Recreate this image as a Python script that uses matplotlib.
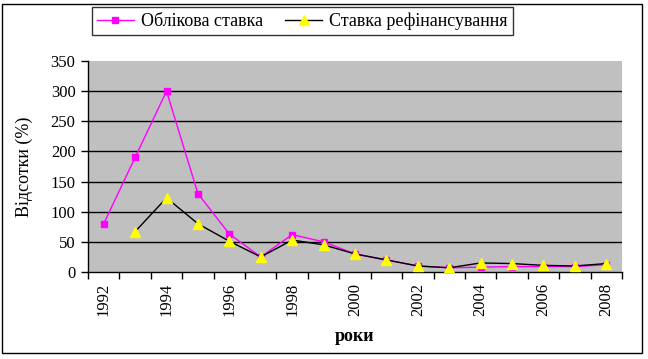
import matplotlib
matplotlib.use("Agg")
import matplotlib.pyplot as plt
from matplotlib.patches import Rectangle
from matplotlib.ticker import FixedLocator

years = list(range(1992, 2009))
discount_rate = [80, 190, 300, 130, 63, 25, 62, 50, 30, 20, 10, 7, 8, 9, 9, 9, 12]
refin_rate = [None, 67, 123, 80, 51, 25, 53, 45, 30, 20, 10, 7, 15, 14, 11, 10, 14]
series_names = ["Облікова ставка", "Ставка рефінансування"]
ylabel = "Відсотки (%)"
xlabel = "роки"
yticks = [0, 50, 100, 150, 200, 250, 300, 350]

plt.rcParams['font.family'] = ['Liberation Serif', 'DejaVu Serif']

W, H = 648, 359
fig = plt.figure(figsize=(W / 100, H / 100), dpi=100)
fig.patch.set_facecolor('white')

# outer border
fig.patches.append(Rectangle((2 / W, 1 - 353 / H), 640 / W, 349 / H,
                             transform=fig.transFigure, fill=False,
                             edgecolor='black', linewidth=1.0))

L, R, T, B = 88, 622, 61, 272
ax = fig.add_axes([L / W, 1 - B / H, (R - L) / W, (B - T) / H])
ax.set_facecolor('#C0C0C0')

x = list(range(len(years)))
rx = [i for i, v in zip(x, refin_rate) if v is not None]
rv = [v for v in refin_rate if v is not None]

l1, = ax.plot(x, discount_rate, color='#FF00FF', linewidth=1.0, marker='s',
              markersize=5, markerfacecolor='#FF00FF', markeredgecolor='#FF00FF',
              zorder=3)
l2, = ax.plot(rx, rv, color='black', linewidth=1.0, marker='^',
              markersize=7, markerfacecolor='#FFFF00', markeredgecolor='#FFFF00',
              zorder=4)

ax.set_xlim(-0.5, len(years) - 0.5)
ax.set_ylim(0, 350)
ax.set_yticks(yticks)
ax.set_yticklabels([str(v) for v in yticks], fontsize=12)
for v in yticks[1:-1]:
    ax.axhline(v, color='black', linewidth=1.0, zorder=1)

ax.xaxis.set_major_locator(FixedLocator(x[::2]))
ax.set_xticklabels([str(y) for y in years[::2]], rotation=90, fontsize=12)
ax.xaxis.set_minor_locator(FixedLocator([i - 0.5 for i in range(len(years) + 1)]))
ax.tick_params(axis='x', which='major', length=0, pad=8)
ax.tick_params(axis='x', which='minor', length=5, width=1, direction='out')
ax.tick_params(axis='y', which='major', length=5, width=1, direction='out', pad=4)

for s in ['top', 'right']:
    ax.spines[s].set_visible(False)
for s in ['left', 'bottom']:
    ax.spines[s].set_color('black')
    ax.spines[s].set_linewidth(1.0)

ax.set_ylabel(ylabel, fontsize=13)
ax.yaxis.set_label_coords(-0.103, 0.5)
ax.set_xlabel(xlabel, fontsize=13, fontweight='bold')
ax.xaxis.set_label_coords(0.5, -0.265)

leg = fig.legend([l1, l2], series_names, loc='upper left',
                 bbox_to_anchor=(92 / W, 1 - 7 / H), ncol=2, fontsize=13,
                 frameon=True, fancybox=False, edgecolor='black',
                 borderpad=0.3, handlelength=2.0, columnspacing=1.25,
                 handletextpad=0.4, borderaxespad=0)
leg.get_frame().set_linewidth(1.0)

fig.savefig('out.png', dpi=100)
